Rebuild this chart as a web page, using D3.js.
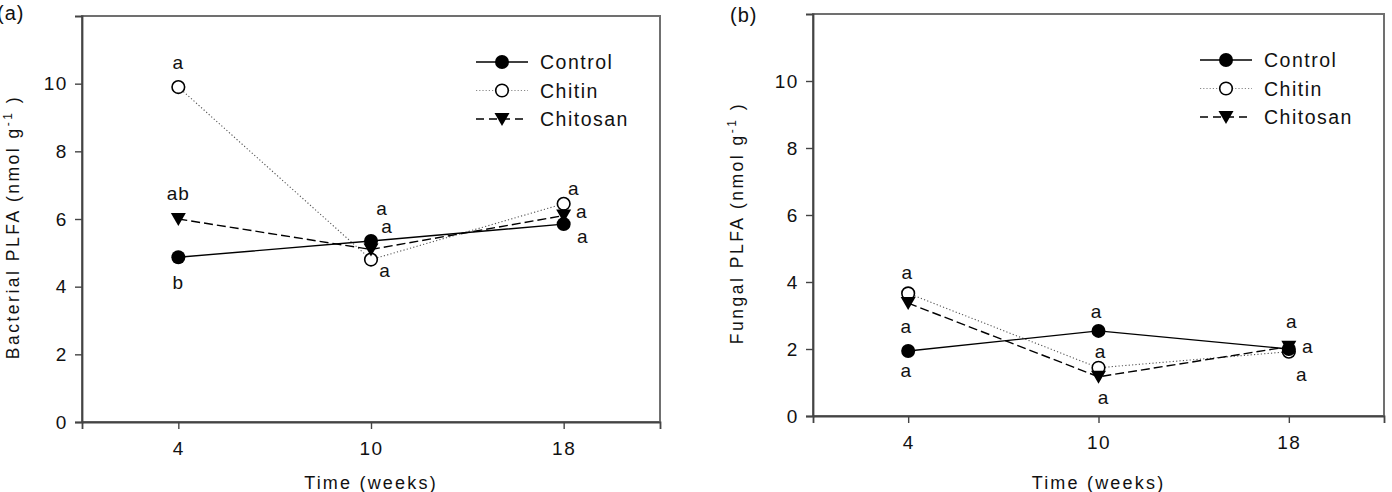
<!DOCTYPE html>
<html lang='en'>
<head>
<meta charset='UTF-8'>
<title>PLFA</title>
<script src='https://d3js.org/d3.v7.min.js'></script>
<style>
  body { margin: 0; background: #fff; }
  svg { display: block; font-family: 'Liberation Sans', Arial, sans-serif; }
</style>
</head>
<body>
<div id='chart'></div>
<script>
// categories and values
const weeks = ['4', '10', '18'];
const yTicks = [0, 2, 4, 6, 8, 10];
const seriesNames = ['Control', 'Chitin', 'Chitosan'];

const bactControl = [4.87, 5.35, 5.85];
const bactChitin = [9.9, 4.8, 6.45];
const bactChitosan = [6.0, 5.1, 6.1];
const bactControlLetters = ['b', 'a', 'a'];
const bactChitinLetters = ['a', 'a', 'a'];
const bactChitosanLetters = ['ab', 'a', 'a'];

const fungControl = [1.94, 2.54, 2.0];
const fungChitin = [3.66, 1.44, 1.92];
const fungChitosan = [3.37, 1.17, 2.07];
const fungControlLetters = ['a', 'a', 'a'];
const fungChitinLetters = ['a', 'a', 'a'];
const fungChitosanLetters = ['a', 'a', 'a'];

// label offsets (px) from each point, per series
const bactOffsets = {
  Control: [[0, 32], [11, -26], [19, 19]],
  Chitin: [[0, -18], [14, 17], [10, -9]],
  Chitosan: [[0, -19], [16, -16], [18, 2]]
};
const fungOffsets = {
  Control: [[-2, 26], [-2, -13], [3, -21]],
  Chitin: [[-1, -14], [2, -10], [13, 29]],
  Chitosan: [[-2, 30], [5, 27], [19, 6]]
};

const styles = {
  Control: { dash: null, stroke: '#000', width: 1.4, marker: 'filled' },
  Chitin: { dash: '1.2,2.2', stroke: '#555', width: 1.1, marker: 'open' },
  Chitosan: { dash: '9,4', stroke: '#000', width: 1.4, marker: 'tri' }
};

const ink = '#111';
const svg = d3.select('#chart').append('svg').attr('width', 1392).attr('height', 492);

function marker(g, kind, cx, cy) {
  if (kind === 'filled') {
    g.append('circle').attr('cx', cx).attr('cy', cy).attr('r', 7).attr('fill', '#000');
  } else if (kind === 'open') {
    g.append('circle').attr('cx', cx).attr('cy', cy).attr('r', 6.3)
      .attr('fill', '#fff').attr('stroke', '#000').attr('stroke-width', 1.6);
  } else {
    g.append('path').attr('d', `M${cx - 7.5},${cy - 6}L${cx + 7.5},${cy - 6}L${cx},${cy + 7}Z`).attr('fill', '#000');
  }
}

function drawPanel(p) {
  const x = d3.scalePoint().domain(weeks).range([p.left, p.right]).padding(0.5);
  const y = d3.scaleLinear().domain([0, 12]).range([p.bottom, p.top]);

  // frame
  svg.append('rect').attr('x', p.left).attr('y', p.top)
    .attr('width', p.right - p.left).attr('height', p.bottom - p.top)
    .attr('fill', 'none').attr('stroke', '#707070').attr('stroke-width', 2);

  const yAxis = svg.append('g').attr('transform', `translate(${p.left},0)`)
    .call(d3.axisLeft(y).tickValues(yTicks).tickSize(7).tickPadding(11));
  const xAxis = svg.append('g').attr('transform', `translate(0,${p.bottom})`)
    .call(d3.axisBottom(x).tickSize(7).tickPadding(13));
  [yAxis, xAxis].forEach(a => {
    a.select('.domain').attr('stroke', '#444').attr('stroke-width', 1.8);
    a.selectAll('.tick line').attr('stroke', '#444').attr('stroke-width', 1.4);
    a.selectAll('.tick text').attr('font-size', 19).attr('fill', ink)
      .attr('font-family', "'Liberation Sans', Arial, sans-serif").style('letter-spacing', '1.5px');
  });
  yAxis.selectAll('.tick text').attr('dx', '0.2em');

  // axis titles
  svg.append('text').attr('x', (p.left + p.right) / 2).attr('y', 489)
    .attr('text-anchor', 'middle').attr('font-size', 18).attr('fill', ink)
    .style('letter-spacing', '2.2px').text('Time (weeks)');

  const yt = svg.append('text')
    .attr('transform', `translate(${p.titleX},${(p.top + p.bottom) / 2 + 8}) rotate(-90)`)
    .attr('text-anchor', 'middle').attr('font-size', 17.5).attr('fill', ink)
    .style('letter-spacing', '2.5px');
  yt.append('tspan').text(p.title + ' (nmol g');
  yt.append('tspan').attr('font-size', 12).attr('baseline-shift', '55%').text('-1');
  yt.append('tspan').text(' )');

  svg.append('text').attr('x', p.tagX).attr('y', p.tagY).attr('font-size', 20)
    .attr('fill', ink).style('letter-spacing', '1px').text(p.tag);

  // lines
  const line = d3.line().x((d, i) => x(weeks[i])).y(d => y(d));
  const order = ['Chitin', 'Control', 'Chitosan'];
  order.forEach(name => {
    const s = styles[name];
    svg.append('path').attr('d', line(p.values[name])).attr('fill', 'none')
      .attr('stroke', s.stroke).attr('stroke-width', s.width)
      .attr('stroke-dasharray', s.dash);
  });
  order.forEach(name => {
    const g = svg.append('g');
    p.values[name].forEach((v, i) => marker(g, styles[name].marker, x(weeks[i]), y(v)));
  });

  // significance letters
  seriesNames.forEach(name => {
    p.values[name].forEach((v, i) => {
      const off = p.offsets[name][i];
      svg.append('text').attr('x', x(weeks[i]) + off[0]).attr('y', y(v) + off[1])
        .attr('text-anchor', 'middle').attr('font-size', 19).attr('fill', ink)
        .style('letter-spacing', '1px').text(p.letters[name][i]);
    });
  });

  // legend
  seriesNames.forEach((name, i) => {
    const s = styles[name];
    const ly = p.top + 46 + i * 28.5;
    const lx = p.right - 184;
    svg.append('line').attr('x1', lx).attr('x2', lx + 52).attr('y1', ly).attr('y2', ly)
      .attr('stroke', name === 'Chitin' ? '#888' : '#000').attr('stroke-width', s.width)
      .attr('stroke-dasharray', name === 'Chitin' ? '1.2,2' : (name === 'Chitosan' ? '8,5' : null));
    marker(svg, s.marker, lx + 26, ly);
    svg.append('text').attr('x', lx + 64).attr('y', ly + 7).attr('font-size', 19.5)
      .attr('fill', ink).style('letter-spacing', '1.5px').text(name);
  });
}

drawPanel({
  left: 82, right: 660, top: 16, bottom: 422, titleX: 19, tag: '(a)', tagX: -3, tagY: 20,
  title: 'Bacterial PLFA',
  values: { Control: bactControl, Chitin: bactChitin, Chitosan: bactChitosan },
  letters: { Control: bactControlLetters, Chitin: bactChitinLetters, Chitosan: bactChitosanLetters },
  offsets: bactOffsets
});

drawPanel({
  left: 813, right: 1384, top: 14, bottom: 416, titleX: 743, tag: '(b)', tagX: 730, tagY: 22,
  title: 'Fungal PLFA',
  values: { Control: fungControl, Chitin: fungChitin, Chitosan: fungChitosan },
  letters: { Control: fungControlLetters, Chitin: fungChitinLetters, Chitosan: fungChitosanLetters },
  offsets: fungOffsets
});
</script>
</body>
</html>
